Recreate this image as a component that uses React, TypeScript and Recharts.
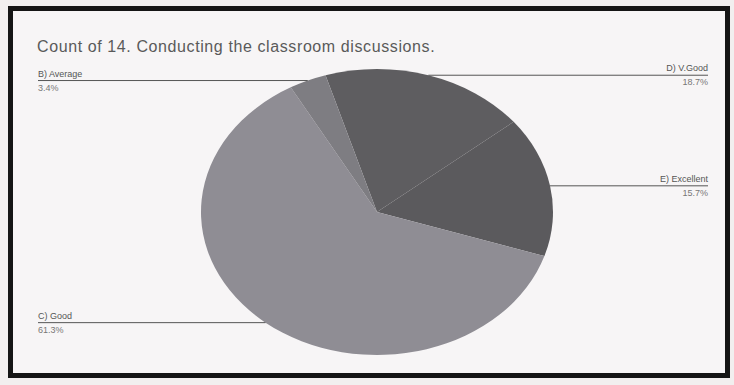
import { PieChart, Pie, Cell, Sector } from "recharts";

const SLICE_NAMES = ["D) V.Good", "E) Excellent", "C) Good", "B) Average"];
const SLICE_VALUES = [18.7, 15.7, 61.3, 3.4];
const SLICE_COLORS = ["#5e5d60", "#5b5a5d", "#8f8d94", "#7e7d82"];

const W = 734;
const H = 385;
const CX = 377;
const CY = 212;
const R = 143;
const SX = 176 / 143; // the photo squashes the pie into an ellipse
const LEFT_EDGE = 38;
const RIGHT_EDGE = 708;

const data = SLICE_NAMES.map((name, i) => ({ name, value: SLICE_VALUES[i] }));

const RAD = Math.PI / 180;

function EllipseSector(props: any) {
  const { cx, cy } = props;
  return (
    <g transform={`translate(${cx} ${cy}) scale(${SX} 1) translate(${-cx} ${-cy})`}>
      <Sector {...props} />
    </g>
  );
}

function renderLabel(props: any) {
  const { cx, cy, midAngle, outerRadius, index } = props;
  const x = cx + outerRadius * SX * Math.cos(-midAngle * RAD);
  const y = cy + outerRadius * Math.sin(-midAngle * RAD);
  const right = x > cx;
  const edge = right ? RIGHT_EDGE : LEFT_EDGE;
  const anchor = right ? "end" : "start";
  return (
    <g key={`lbl-${index}`}>
      <line x1={x} y1={y} x2={edge} y2={y} stroke="#555" strokeWidth={1} />
      <text x={edge} y={y - 4} textAnchor={anchor} fontSize={9} fill="#555" fontFamily="Liberation Sans, Arial, sans-serif">
        {SLICE_NAMES[index]}
      </text>
      <text x={edge} y={y + 10} textAnchor={anchor} fontSize={9} fill="#777" fontFamily="Liberation Sans, Arial, sans-serif">
        {`${SLICE_VALUES[index]}%`}
      </text>
    </g>
  );
}

export default function App() {
  return (
    <div style={{ position: "fixed", left: 0, top: 0, width: W, height: H, background: "#f2efef", overflow: "hidden" }}>
      <div
        style={{
          position: "absolute",
          left: 8,
          top: 6,
          width: 712,
          height: 362,
          border: "5px solid #151515",
          background: "#f7f5f6",
        }}
      />
      <div
        style={{
          position: "absolute",
          left: 37,
          top: 38,
          fontFamily: "Liberation Sans, Arial, sans-serif",
          fontSize: 16,
          letterSpacing: 0.6,
          color: "#5a5a5a",
          whiteSpace: "nowrap",
        }}
      >
        Count of 14. Conducting the classroom discussions.
      </div>
      <div style={{ position: "absolute", left: 0, top: 0 }}>
        <PieChart width={W} height={H} margin={{ top: 0, right: 0, bottom: 0, left: 0 }}>
          <Pie
            data={data}
            dataKey="value"
            nameKey="name"
            cx={CX}
            cy={CY}
            outerRadius={R}
            startAngle={107}
            endAngle={-253}
            stroke="none"
            shape={EllipseSector}
            label={renderLabel}
            labelLine={false}
            isAnimationActive={false}
          >
            {data.map((d, i) => (
              <Cell key={`cell-${i}`} fill={SLICE_COLORS[i]} />
            ))}
          </Pie>
        </PieChart>
      </div>
    </div>
  );
}
